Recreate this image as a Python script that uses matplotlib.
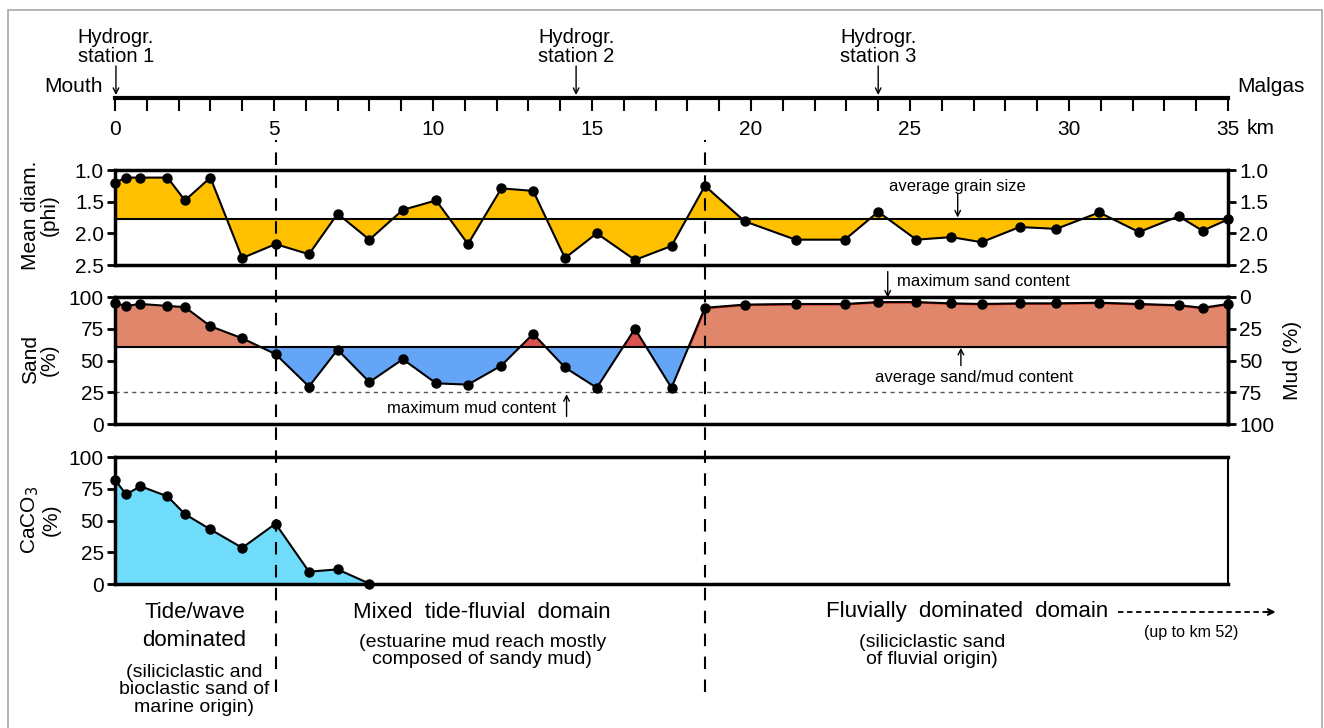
import matplotlib
matplotlib.use('Agg')
import matplotlib.pyplot as plt
import numpy as np

plt.rcParams['font.family'] = ['Liberation Sans', 'DejaVu Sans']

# sampling stations along the estuary (km from mouth)
km = np.array([0, 0.35, 0.8, 1.65, 2.2, 3.0, 4.0, 5.05, 6.1, 7.0, 8.0, 9.05, 10.1, 11.1,
               12.15, 13.15, 14.15, 15.15, 16.35, 17.5, 18.55, 19.8, 21.4, 22.95, 24.0,
               25.2, 26.3, 27.25, 28.45, 29.6, 30.95, 32.2, 33.45, 34.2, 35.0])
phi = np.array([1.2, 1.12, 1.12, 1.12, 1.48, 1.12, 2.39, 2.17, 2.33, 1.69, 2.1, 1.63, 1.48,
                2.17, 1.29, 1.33, 2.39, 2.0, 2.42, 2.2, 1.25, 1.81, 2.1, 2.1, 1.66, 2.1,
                2.06, 2.14, 1.9, 1.93, 1.67, 1.98, 1.73, 1.96, 1.78])
sand = np.array([95, 93, 94.5, 93, 92, 77, 67.5, 55, 29.5, 58.5, 33, 51, 32, 31, 46, 71,
                 44.5, 28.5, 75, 28.5, 91.5, 94, 94.5, 94.5, 96, 96, 95, 94.5, 95, 95,
                 95.5, 94.5, 93.5, 91.5, 94.5])
caco3_km = km[:11]
caco3 = np.array([82, 70.5, 77, 69, 55, 43, 28.5, 47.5, 9.7, 11.5, 0.3])

phi_avg = 1.77
sand_avg = 61
mud_max_line = 25
boundaries = [5.05, 18.55]
stations = [(0.03, 'Hydrogr.\nstation 1'), (14.5, 'Hydrogr.\nstation 2'), (24.0, 'Hydrogr.\nstation 3')]

W, H = 1324, 728
fig = plt.figure(figsize=(W / 100, H / 100), dpi=100)

TICK_FS = 15
LAB_FS = 15
NOTE_FS = 12


def pax(l, t, r, b):
    return fig.add_axes([l / W, 1 - b / H, (r - l) / W, (b - t) / H])


def panel_style(ax, right_lw=2.5):
    ax.set_xlim(0, 35)
    ax.set_xticks([])
    for s in ['left', 'top', 'bottom']:
        ax.spines[s].set_linewidth(2.5)
    ax.spines['right'].set_linewidth(right_lw)
    ax.tick_params(axis='y', direction='out', length=6, width=2, labelsize=TICK_FS, pad=2)


# frame
fig.patches.append(plt.Rectangle((8 / W, -0.05), 1314 / W, 1.05 - 10 / H, transform=fig.transFigure,
                                 fill=False, edgecolor='#a8a8a8', lw=1.2))

# ---- top distance axis
ax_top = pax(115, 20, 1228, 98)
ax_top.set_xlim(0, 35)
ax_top.set_ylim(98, 20)
for s in ['left', 'right', 'top']:
    ax_top.spines[s].set_visible(False)
ax_top.spines['bottom'].set_linewidth(3)
ax_top.set_yticks([])
ax_top.set_xticks(range(36))
ax_top.set_xticklabels([str(i) if i % 5 == 0 else '' for i in range(36)])
ax_top.tick_params(axis='x', direction='out', length=9, width=1.5, labelsize=TICK_FS, pad=7)
ax_top.patch.set_alpha(0)
for x, lab in stations:
    ax_top.text(x, 47, lab, ha='center', va='center', fontsize=14.5, linespacing=1.0)
    ax_top.annotate('', xy=(x, 95), xytext=(x, 66),
                    arrowprops=dict(arrowstyle='->', lw=1, color='k', shrinkA=0, shrinkB=0))
ax_top.text(-0.4, 86, 'Mouth', ha='right', va='center', fontsize=LAB_FS)
ax_top.text(35.3, 86, 'Malgas', ha='left', va='center', fontsize=LAB_FS)
ax_top.text(35.6, 128, 'km', ha='left', va='center', fontsize=TICK_FS, clip_on=False)

# ---- mean grain size
ax1 = pax(115, 170, 1228, 265)
panel_style(ax1)
ax1.set_ylim(2.5, 1.0)
ax1.set_yticks([1.0, 1.5, 2.0, 2.5])
ax1.set_yticklabels(['1.0', '1.5', '2.0', '2.5'])
ax1.tick_params(axis='y', right=True, labelright=True)
ax1.fill_between(km, phi, phi_avg, color='#FFC000', interpolate=True, lw=0, zorder=1)
ax1.axhline(phi_avg, color='k', lw=1.5, zorder=2)
ax1.plot(km, phi, color='k', lw=1.5, marker='o', ms=6.5, clip_on=False, zorder=3)
ax1.text(26.5, 1.26, 'average grain size', ha='center', va='center', fontsize=NOTE_FS)
ax1.annotate('', xy=(26.5, phi_avg - 0.02), xytext=(26.5, 1.38),
             arrowprops=dict(arrowstyle='->', lw=1, color='k', shrinkA=0, shrinkB=0))
fig.text(40 / W, 1 - 215 / H, 'Mean diam.\n(phi)', rotation=90, ha='center', va='center',
         fontsize=LAB_FS, linespacing=1.0)

# ---- sand / mud
ax2 = pax(115, 297, 1228, 424)
panel_style(ax2)
ax2.set_ylim(0, 100)
ax2.set_yticks([0, 25, 50, 75, 100])
above = sand >= sand_avg
below = sand <= sand_avg
ax2.fill_between(km, sand, sand_avg, where=above & (km < 8), color='#E0866A',
                 interpolate=True, lw=0, zorder=1)
ax2.fill_between(km, sand, sand_avg, where=above & (km > 8) & (km < 18), color='#D9534F',
                 interpolate=True, lw=0, zorder=1)
ax2.fill_between(km, sand, sand_avg, where=above & (km > 17), facecolor='#E0866A',
                 edgecolor='#D42A1E', interpolate=True, lw=1.5, zorder=1)
ax2.fill_between(km, sand, sand_avg, where=below, color='#64A5F7', interpolate=True, lw=0, zorder=1)
ax2.axhline(sand_avg, color='k', lw=1.5, zorder=2)
ax2.axhline(mud_max_line, color='#555555', lw=1, ls=(0, (3, 3)), zorder=2)
ax2.plot(km, sand, color='k', lw=1.5, marker='o', ms=6.5, clip_on=False, zorder=3)
ax2r = ax2.twinx()
ax2r.set_ylim(100, 0)
ax2r.set_yticks([0, 25, 50, 75, 100])
for s in ['left', 'top', 'bottom']:
    ax2r.spines[s].set_visible(False)
ax2r.spines['right'].set_linewidth(2.5)
ax2r.tick_params(axis='y', direction='out', length=6, width=2, labelsize=TICK_FS, pad=2)
ax2r.set_ylabel('Mud (%)', fontsize=LAB_FS, labelpad=6)

ax2.text(24.6, 112.5, 'maximum sand content', ha='left', va='center', fontsize=NOTE_FS, clip_on=False)
ax2.annotate('', xy=(24.3, 99.5), xytext=(24.3, 120), annotation_clip=False,
             arrowprops=dict(arrowstyle='->', lw=1, color='k', shrinkA=0, shrinkB=0))
ax2.text(27.0, 37, 'average sand/mud content', ha='center', va='center', fontsize=NOTE_FS)
ax2.annotate('', xy=(26.6, sand_avg - 1), xytext=(26.6, 46),
             arrowprops=dict(arrowstyle='->', lw=1, color='k', shrinkA=0, shrinkB=0))
ax2.text(11.2, 12.5, 'maximum mud content', ha='center', va='center', fontsize=NOTE_FS)
ax2.annotate('', xy=(14.2, 23.5), xytext=(14.2, 6),
             arrowprops=dict(arrowstyle='->', lw=1, color='k', shrinkA=0, shrinkB=0))
fig.text(40 / W, 1 - 360 / H, 'Sand\n(%)', rotation=90, ha='center', va='center',
         fontsize=LAB_FS, linespacing=1.0)

# ---- carbonate
ax3 = pax(115, 457, 1228, 584)
panel_style(ax3, right_lw=1.5)
ax3.set_ylim(0, 100)
ax3.set_yticks([0, 25, 50, 75, 100])
ax3.fill_between(caco3_km, caco3, 0, color='#70DCFC', lw=0, zorder=1)
ax3.plot(caco3_km, caco3, color='k', lw=1.5, marker='o', ms=6.5, clip_on=False, zorder=3)
fig.text(40 / W, 1 - 520 / H, 'CaCO$_3$\n(%)', rotation=90, ha='center', va='center',
         fontsize=LAB_FS, linespacing=1.0)

# ---- domain boundaries and labels
ov = pax(115, 140, 1228, 692)
ov.set_xlim(0, 35)
ov.set_ylim(692, 140)
ov.axis('off')
for b in boundaries:
    ov.axvline(b, color='k', lw=1.5, ls=(0, (6, 5)))

ov.text(2.5, 612, 'Tide/wave', ha='center', va='center', fontsize=16)
ov.text(2.5, 640, 'dominated', ha='center', va='center', fontsize=16)
ov.text(2.5, 690, '(siliciclastic and\nbioclastic sand of\nmarine origin)', ha='center',
        va='center', fontsize=14, linespacing=1.03, clip_on=False)
ov.text(11.55, 612, 'Mixed  tide-fluvial  domain', ha='center', va='center', fontsize=16)
ov.text(11.55, 651, '(estuarine mud reach mostly\ncomposed of sandy mud)', ha='center',
        va='center', fontsize=14, linespacing=1.0)
ov.text(26.8, 612, 'Fluvially  dominated  domain', ha='center', va='center', fontsize=16)
ov.text(25.7, 651, '(siliciclastic sand\nof fluvial origin)', ha='center', va='center',
        fontsize=14, linespacing=1.0)
ov.plot([31.55, 36.3], [612, 612], color='k', lw=1.3, ls=(0, (3, 2)), clip_on=False)
ov.annotate('', xy=(36.5, 612), xytext=(36.2, 612), annotation_clip=False,
            arrowprops=dict(arrowstyle='->', lw=1.5, color='k', shrinkA=0, shrinkB=0))
ov.text(33.85, 633, '(up to km 52)', ha='center', va='center', fontsize=11.5, clip_on=False)

fig.savefig('out.png', dpi=100)
